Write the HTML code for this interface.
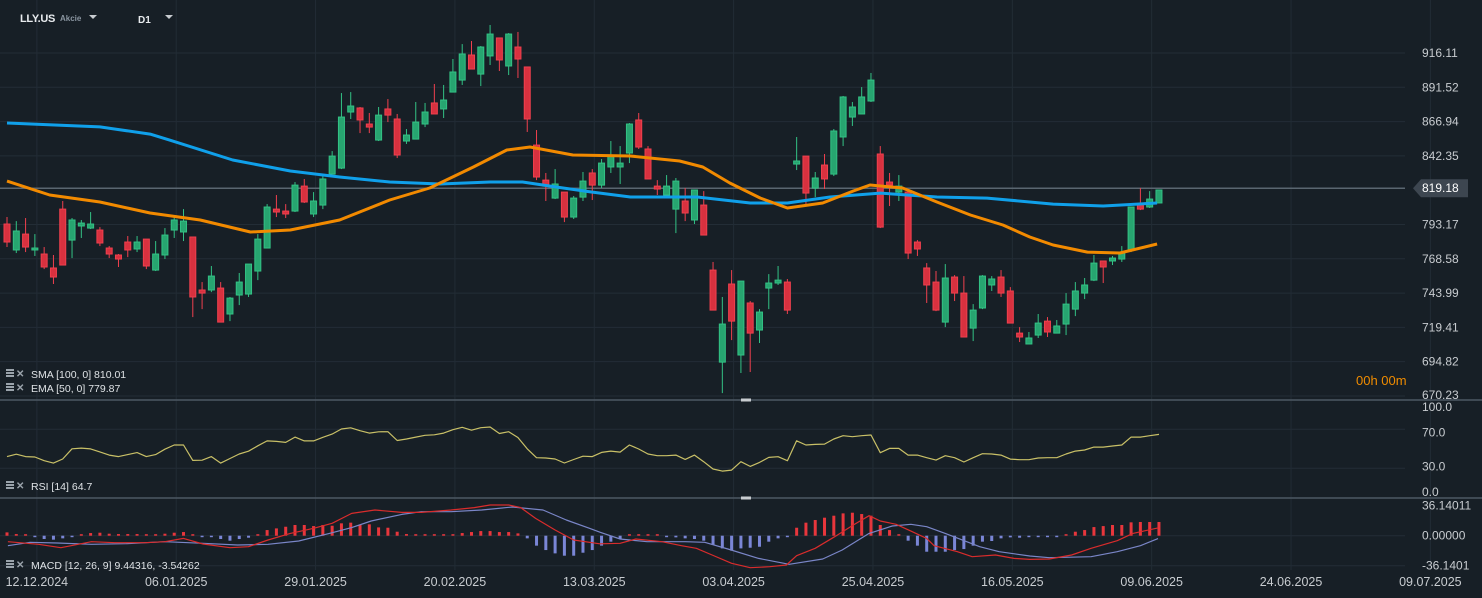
<!DOCTYPE html>
<html><head><meta charset="utf-8"><style>
html,body{margin:0;padding:0;background:#171f26;}
svg{display:block;font-family:"Liberation Sans",sans-serif;}
</style></head><body>
<svg id="chart" width="1482" height="598" viewBox="0 0 1482 598" xmlns="http://www.w3.org/2000/svg">
<rect x="0" y="0" width="1482" height="598" fill="#171f26"/>
<g id="grid"></g>
<g id="candles"></g>
<g id="mas"></g>
<g id="rsi"></g>
<g id="macd"></g>
<g id="axes"></g>
<g>
  <text x="20" y="22" fill="#e8ebee" font-size="11" font-weight="bold" letter-spacing="-0.3">LLY.US</text>
  <text x="60" y="21" fill="#8a95a0" font-size="8" font-weight="bold">Akcie</text>
  <path d="M89 15 L97 15 L93 19 Z" fill="#c8ccd0"/>
  <text x="138" y="23" fill="#e8ebee" font-size="10" font-weight="bold">D1</text>
  <path d="M165 15 L173 15 L169 19 Z" fill="#c8ccd0"/>
</g>
</svg>
<script>
const NS="http://www.w3.org/2000/svg";
// ---- data ----
const dates=["12.12.2024","06.01.2025","29.01.2025","20.02.2025","13.03.2025","03.04.2025","25.04.2025","16.05.2025","09.06.2025","24.06.2025","09.07.2025"];
const dateIdx=[3,18,33,48,63,78,93,108,123,138,153];
const opens=[793.5,774.9,786.3,774.9,772.0,762.0,804.2,782.0,792.1,790.6,789.2,776.3,771.3,780.6,775.6,782.7,760.5,771.3,789.2,787.8,784.2,746.2,746.2,747.6,729.0,742.6,743.3,759.8,776.3,804.2,802.8,802.8,820.7,800.7,807.1,829.3,833.6,873.8,876.7,865.2,853.7,876.0,868.8,853.0,854.4,865.2,880.3,876.0,888.1,896.7,914.7,901.0,914.0,926.9,906.8,920.4,906.1,850.1,825.0,812.1,816.4,798.5,812.8,830.1,821.4,834.4,834.4,844.4,868.1,847.3,820.7,814.3,804.2,810.0,796.4,807.1,760.5,694.5,750.5,699.6,736.9,717.5,747.6,751.2,751.9,836.5,842.2,819.3,835.8,829.3,855.9,870.2,872.4,881.7,843.7,823.6,816.4,816.4,780.6,762.0,751.9,723.2,755.5,744.0,718.9,733.3,749.8,755.5,745.5,715.3,707.5,713.9,723.9,715.3,721.8,732.5,744.0,753.3,767.0,767.0,768.4,774.9,807.8,805.7,808.6];
const highs=[798.5,795.6,797.8,786.3,777.0,771.3,810.0,797.8,796.4,802.1,791.3,777.7,772.0,784.9,784.9,782.7,781.3,790.6,798.5,804.2,784.2,751.9,763.4,751.9,741.2,758.4,764.8,786.3,807.8,814.3,807.8,823.6,825.8,816.4,827.9,845.8,887.4,888.1,877.4,873.1,877.4,883.1,872.4,861.6,881.0,880.3,893.9,893.2,911.8,922.5,924.7,921.1,936.2,926.9,930.4,931.2,906.1,860.9,830.1,832.9,816.4,813.6,830.8,832.9,840.1,853.0,849.4,865.9,873.1,849.4,825.0,828.6,826.5,819.3,817.9,817.1,766.3,741.2,760.5,752.6,738.3,732.5,757.6,763.4,754.1,855.9,842.2,830.8,843.7,861.6,885.3,881.0,891.7,901.8,849.4,830.1,828.6,816.4,782.0,765.5,759.8,764.8,756.9,756.2,736.1,756.9,756.2,760.5,748.3,719.6,716.1,729.0,726.8,724.7,744.0,751.9,754.8,771.3,767.0,770.6,777.7,805.7,819.3,817.1,817.9];
const lows=[777.0,772.7,773.4,770.6,761.2,750.5,764.1,769.1,783.5,789.9,777.7,769.1,762.7,769.8,773.4,761.2,759.8,768.4,783.5,781.3,726.8,732.5,744.7,723.2,723.9,735.4,741.2,753.3,776.3,798.5,797.8,802.1,808.6,798.5,804.2,829.3,832.9,868.8,858.7,858.7,853.0,866.6,840.8,850.9,854.4,863.0,872.4,869.5,888.1,893.2,904.6,892.4,907.5,903.2,900.3,898.2,859.5,825.0,810.0,811.4,794.9,797.1,810.0,810.7,819.3,830.1,822.2,837.2,847.3,825.8,814.3,812.8,787.0,795.6,793.5,785.6,731.8,672.3,710.3,686.7,687.4,708.2,732.5,749.8,729.0,832.2,807.8,812.8,818.6,827.9,849.4,863.8,872.4,881.0,790.6,806.4,810.0,768.4,770.6,736.9,731.1,719.6,738.3,712.5,709.6,732.5,745.5,741.2,722.5,708.9,707.5,711.8,712.5,715.3,713.9,727.5,739.7,752.6,751.2,764.1,766.3,773.4,803.5,805.0,808.6];
const closes=[780.6,788.5,777.0,776.3,762.7,755.5,764.1,796.4,794.2,793.5,779.9,772.0,768.4,774.9,780.6,763.4,772.0,785.6,796.4,795.6,741.2,744.0,756.2,723.2,740.4,751.9,764.8,782.7,805.7,802.1,800.7,821.4,809.3,810.0,825.8,842.2,870.2,878.1,868.1,863.0,871.6,871.6,843.0,857.3,866.6,873.8,872.4,882.4,902.5,915.4,904.6,920.4,929.7,911.1,929.7,911.8,868.8,827.2,820.7,822.2,798.5,812.1,824.3,821.4,837.2,843.0,837.2,865.2,848.7,825.8,818.6,820.7,824.3,801.4,817.9,785.6,731.8,721.8,723.9,752.6,715.3,730.4,751.2,753.3,731.8,838.7,815.7,826.5,825.8,860.2,884.6,877.4,884.6,896.7,791.3,821.4,820.7,772.7,775.6,749.8,731.8,754.8,744.0,712.5,731.8,756.2,754.1,744.0,722.5,712.5,711.8,722.5,716.1,720.4,736.1,745.5,749.8,765.5,762.7,769.1,772.7,805.7,804.2,811.4,817.9];
const smaIdx=[0,10,15.4,17.5,24.3,30.5,35.8,41.2,46.6,52,55.5,59.2,62.8,67.1,74.3,80,84,88.6,94,100.1,105.5,112.6,118,123.8];
const smaVals=[865.9,863.1,858.0,853.7,839.4,831.5,827.2,823.6,822.2,823.6,823.6,820.0,816.5,812.9,812.9,808.6,808.6,812.9,815.7,812.9,812.1,807.8,806.4,808.6];
const emaIdx=[0,4.6,10,15.4,20.8,26.2,30.5,35.8,41.2,45.5,50.2,53.8,56.3,60.9,67.1,72.4,74.9,77.8,81.1,84,87.8,91.1,92.9,96.4,100.1,103.7,107.2,110.1,112.6,116.3,119.8,123.8];
const emaVals=[824.3,814.3,809.3,801.4,796.4,787.8,789.2,796.4,810.7,819.3,834.4,846.6,848.7,843.0,842.3,838.7,834.4,822.9,812.1,805.0,808.6,817.2,821.5,819.3,809.3,800.0,792.8,784.2,778.5,773.4,772.7,779.2];
const rsiVals=[42,44.4,42,41.5,37.7,35.3,39.5,50,50.7,49.8,46.8,43.5,42,44,46,42,44,49.5,53.8,53.8,38,38.3,42,35.3,40,44.6,47.5,53,58,57.5,56.5,62,58,58,61.7,65,70.3,71.5,68.5,66.1,67.4,67.5,58.5,60,62,63.8,64.3,66,69.5,72,69,71.6,72.3,65.6,67.5,61.5,50,40.8,40.5,39.5,35.4,39,42.4,42,46.3,47.6,46.6,53.8,49.7,44.6,42.9,42.9,43.5,39.1,43.5,36.7,29.2,27.1,28.1,36.7,31.9,36,41.1,41.8,37.7,58.2,53.8,54.5,54.8,60,63.4,62.4,63.4,64.1,45.9,50.4,50.4,43.5,43.5,40.8,38.4,42.9,40.8,36.4,40.8,44.9,44.6,43.5,39.4,38.8,38.8,40.5,40.8,40.8,44.6,47.6,48.7,51.7,51.7,52.8,53.8,62,62,63.4,64.7];
const histVals=[4,2,0.4,-1.2,-4,-4.8,-3.2,-1.6,0.8,3.2,3.6,2.4,2,2,2,0.8,1.2,2.4,3.6,4.4,0,-1.2,-1.6,-4,-6,-4,-2.4,0.8,6.8,8.8,10.8,12.9,12.9,11.6,12.9,12,14.9,15.7,12.9,13.7,10,9.6,4.8,2,0,0,0,0,1.6,3.2,4.4,5.6,5.6,4.4,4.4,2.8,-3.2,-12,-17.3,-21.3,-24.1,-24.1,-20.5,-17.3,-12,-7.2,-4,0.8,1.6,0.8,0,-1.2,-2,-3.2,-4,-6,-11.2,-15.3,-18,-15.3,-14.5,-13.3,-7.2,-3.2,-0.8,9.6,15.7,18.9,21.7,24.1,26.9,27.7,26.1,24.1,12.9,6.8,0.8,-6,-12,-19.3,-19.3,-19.3,-17.3,-16.1,-12,-7.2,-6.4,-3.2,-2,-2.4,-1.6,-1.6,-1.6,-1.2,0.8,4.8,6.8,10.4,11.6,12.9,12.9,16.1,16.5,16.5,16.5];
const macdIdx=[0.1,3.4,5.8,9.1,11.6,14.9,17,19,21.1,24,26,28.1,30.5,33,35,37.1,39.6,42.5,44.6,47.8,50.3,52,54,55.3,56.9,59,61,63.8,66,67.7,70.5,72.6,74.2,75.9,78,80,82.1,83.9,85,87,89.1,91.1,92.8,94,95.7,97.3,99,99.8,102.3,103.9,106.4,108.4,110.1,112.2,114.6,116.7,119.5,121.2,123.9];
const macdVals=[-7.2,-10.4,-14.4,-7.2,-8.4,-8.4,-7.2,-3.2,-10,-14.4,-13.2,-5.2,2.8,8.9,14.9,26.9,31,28.1,28.1,31,33.8,37,37,33.8,20.9,6.9,-5.2,-9.8,-9.2,-4,-7.2,-12,-15.2,-23.3,-33.3,-38.5,-37.3,-35.3,-24.1,-15.2,-1.2,12.9,24.1,17.7,13.7,5.6,-3.2,-12,-19.3,-25.3,-23.3,-27.3,-28.5,-28.1,-23.3,-15.2,-6,2.8,9.4];
const sigIdx=[0.1,2.5,5.4,9.1,12.8,17,21.1,24.8,28.1,31.4,34.7,37.1,39.2,42.5,44.6,47.8,51.1,54.4,57.7,60.2,62.7,63.9,66,68.9,73,75.1,77.6,80.9,84.2,87.8,89.9,92.8,95.3,97.3,99,101,104.7,106.8,110.1,112.2,116.7,119.5,122,123.9];
const sigVals=[-12,-8,-8.8,-10.4,-9.6,-7.2,-9.2,-11.2,-10.4,-6.4,2.8,9.7,17.7,25.7,28.9,28.9,31,34.6,31,18.9,8.9,4,-4,-7.2,-7.2,-8,-16,-27.3,-34.5,-28.1,-17.2,2.8,11.7,13.7,10.9,2.8,-13.2,-19.3,-24.5,-26.5,-25.3,-19.3,-12,-3.5];
const priceTicks=[916.11,891.52,866.94,842.35,793.17,768.58,743.99,719.41,694.82,670.23];
const lastPrice=819.18;
const rsiTicks=[100,70,30,0];
const rsiTickLabels=["100.0","70.0","30.0","0.0"];
const macdTicks=[36.14011,0,-36.1401];
const macdTickLabels=["36.14011","0.00000","-36.1401"];
// ---- scales ----
const xAt=i=>7+i*9.29;
const yP=p=>53+(916.11-p)*1.3949;
const yR=v=>497.5-0.975*v;
const yRLabel=v=>492-0.85*v;
const yM=v=>535.7-0.83*v;
function mk(tag,attrs,parent){const e=document.createElementNS(NS,tag);for(const k in attrs)e.setAttribute(k,attrs[k]);parent.appendChild(e);return e;}
const grid=document.getElementById('grid');
priceTicks.concat([lastPrice]).forEach(p=>{const l=mk('line',{x1:0,x2:1405,y1:yP(p),y2:yP(p),stroke:'#232d36','stroke-width':1},grid);

});
[70,30].forEach(v=>{const l=mk('line',{x1:0,x2:1405,y1:yR(v),y2:yR(v),stroke:'#232d36'},grid);

});
[0,-36.14].forEach(v=>{const l=mk('line',{x1:0,x2:1405,y1:yM(v),y2:yM(v),stroke:'#232d36'},grid);

});
dateIdx.forEach(i=>{const l=mk('line',{x1:xAt(i)+2,x2:xAt(i)+2,y1:0,y2:570,stroke:'#222c35'},grid);

});
[400,498].forEach(y=>{const l=mk('line',{x1:0,x2:1482,y1:y,y2:y,stroke:'#4d5863','stroke-width':1.5},grid);


const h=mk('rect',{x:741,y:y-1.5,width:10,height:3,fill:'#c8ccd0'},grid);

});
const lp=mk('line',{x1:0,x2:1405,y1:yP(lastPrice),y2:yP(lastPrice),stroke:'#5a6670','stroke-width':1.5},grid);


const cg=document.getElementById('candles');
opens.forEach((o,i)=>{const c=closes[i],up=c>=o,col=up?'#27a570':'#d8313f',st=up?'#33c285':'#f0404e';
const x=xAt(i);
const w=mk('line',{x1:x,x2:x,y1:yP(highs[i]),y2:yP(lows[i]),stroke:st,'stroke-width':1},cg);


const top=yP(Math.max(o,c)),h=Math.max(1.5,Math.abs(yP(o)-yP(c)));
const b=mk('rect',{x:x-3,y:top,width:6,height:h,fill:col,stroke:st,'stroke-width':1},cg);

});
const mg=document.getElementById('mas');
function poly(idx,vals,yf,col,w,parent,name){const d=idx.map((i,k)=>(k?'L':'M')+xAt(i).toFixed(1)+' '+yf(vals[k]).toFixed(1)).join(' ');
const p=mk('path',{d:d,fill:'none',stroke:col,'stroke-width':w,'stroke-linejoin':'round'},parent);

return p;}
poly(smaIdx,smaVals,yP,'#10a0ea',3,mg,'sma-100-line');
poly(emaIdx,emaVals,yP,'#f28a00',3,mg,'ema-50-line');
const rg=document.getElementById('rsi');
poly(rsiVals.map((v,i)=>i),rsiVals,yR,'#c9c067',1.2,rg,'rsi-line');
const mcg=document.getElementById('macd');
histVals.forEach((v,i)=>{const y0=yM(0),y1=yM(v);let h=Math.abs(y1-y0);if(h<1.5)h=1.5;
const r=mk('rect',{x:xAt(i)-1.5,y:v>=0?y0-h:y0,width:3,height:h,fill:v>=0?'#e8363c':'#7a86d6'},mcg);

});
poly(sigIdx,sigVals,yM,'#7a86c8',1.2,mcg,'macd-signal-line');
poly(macdIdx,macdVals,yM,'#d92c2c',1.2,mcg,'macd-line');
const ax=document.getElementById('axes');
function txt(x,y,s,attrs,name,inter){const t=mk('text',Object.assign({x:x,y:y,fill:'#c8ccd0','font-size':12},attrs||{}),ax);t.textContent=s;

return t;}
priceTicks.forEach(p=>txt(1422,Math.min(yP(p)+4,399),p.toFixed(2),{},'price-tick-label'));
const lb=mk('path',{d:`M1413 ${yP(lastPrice)} L1421 ${yP(lastPrice)-9} L1468 ${yP(lastPrice)-9} L1468 ${yP(lastPrice)+9} L1421 ${yP(lastPrice)+9} Z`,fill:'#3d4650'},ax);


txt(1422,yP(lastPrice)+4,lastPrice.toFixed(2),{fill:'#ffffff'},'last-price-label');
txt(1356,385,'00h 00m',{fill:'#f08c00','font-size':13},'candle-countdown');
rsiTicks.forEach((v,k)=>txt(1422,yRLabel(v)+4,rsiTickLabels[k],{},'rsi-tick-label'));
macdTicks.forEach((v,k)=>txt(1422,yM(v)+4,macdTickLabels[k],{},'macd-tick-label'));
dates.forEach((d,k)=>txt(xAt(dateIdx[k])+2,586,d,{'text-anchor':'middle','font-size':12.5},'date-tick-label'));
function icon(x,y,name){const g=mk('g',{},ax);
mk('rect',{x:x,y:y,width:8,height:2,fill:'#9aa3ab'},g);mk('rect',{x:x,y:y+3,width:8,height:2,fill:'#9aa3ab'},g);mk('rect',{x:x,y:y+6,width:8,height:2,fill:'#9aa3ab'},g);
const t=mk('text',{x:x+10,y:y+8,fill:'#9aa3ab','font-size':10,'font-weight':'bold'},g);t.textContent='✕';

}
icon(6,369,'sma-legend-icons');txt(31,378,'SMA [100, 0] 810.01',{'font-size':10.5,fill:'#dfe3e6'},'sma-legend');
icon(6,383,'ema-legend-icons');txt(31,392,'EMA [50, 0] 779.87',{'font-size':10.5,fill:'#dfe3e6'},'ema-legend');
icon(6,481,'rsi-legend-icons');txt(31,490,'RSI [14]  64.7',{'font-size':10.5,fill:'#dfe3e6'},'rsi-legend');
icon(6,560,'macd-legend-icons');txt(31,569,'MACD [12, 26, 9] 9.44316,  -3.54262',{'font-size':10.5,fill:'#dfe3e6'},'macd-legend');
</script>
</body></html>
